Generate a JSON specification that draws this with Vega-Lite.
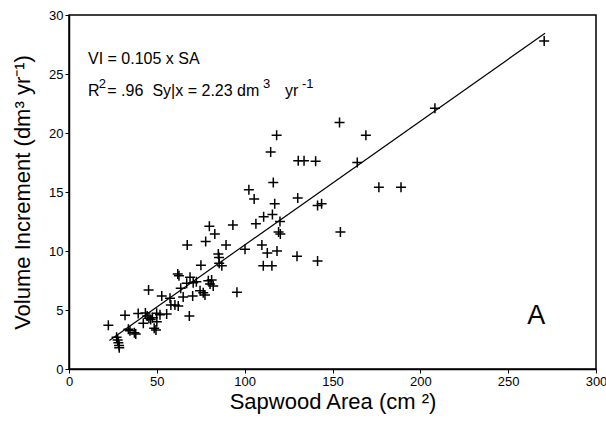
{
  "$schema": "https://vega.github.io/schema/vega-lite/v6.json",
  "width": 527,
  "height": 354,
  "autosize": {"type": "none"},
  "padding": {"left": 69, "top": 15, "right": 10, "bottom": 54},
  "background": "white",
  "config": {
    "font": "Liberation Sans",
    "view": {"stroke": "black", "strokeWidth": 1.5},
    "axis": {"grid": false, "domainColor": "black", "domainWidth": 1.5, "tickColor": "black", "tickSize": 4, "labelColor": "black", "titleColor": "black", "labelFontSize": 13, "titleFontWeight": "normal", "titleFontSize": 22, "labelFlush": false}
  },
  "datasets": {
    "pts": [
      {"sa": 270.5, "vi": 27.8}, {"sa": 208.3, "vi": 22.1}, {"sa": 154, "vi": 20.9}, {"sa": 118.2, "vi": 19.8},
      {"sa": 169, "vi": 19.8}, {"sa": 114.8, "vi": 18.4}, {"sa": 130.5, "vi": 17.65}, {"sa": 133.8, "vi": 17.65},
      {"sa": 140.4, "vi": 17.6}, {"sa": 164.1, "vi": 17.5}, {"sa": 116.3, "vi": 15.8}, {"sa": 102.4, "vi": 15.2},
      {"sa": 176.4, "vi": 15.4}, {"sa": 189, "vi": 15.4}, {"sa": 105.4, "vi": 14.4}, {"sa": 130.2, "vi": 14.5},
      {"sa": 117.1, "vi": 14.0}, {"sa": 141.5, "vi": 13.85}, {"sa": 143.8, "vi": 14.0}, {"sa": 110.8, "vi": 12.9},
      {"sa": 115.8, "vi": 13.1}, {"sa": 79.9, "vi": 12.1}, {"sa": 93.3, "vi": 12.2}, {"sa": 106.4, "vi": 12.3},
      {"sa": 120.1, "vi": 12.5}, {"sa": 83, "vi": 11.45}, {"sa": 119.3, "vi": 11.6}, {"sa": 120.3, "vi": 11.45},
      {"sa": 154.5, "vi": 11.6}, {"sa": 67.3, "vi": 10.5}, {"sa": 77.8, "vi": 10.8}, {"sa": 89.4, "vi": 10.5},
      {"sa": 100.2, "vi": 10.15}, {"sa": 109.8, "vi": 10.5}, {"sa": 112.9, "vi": 9.83}, {"sa": 118.4, "vi": 10.0},
      {"sa": 129.8, "vi": 9.55}, {"sa": 141.5, "vi": 9.15}, {"sa": 85, "vi": 9.75}, {"sa": 85.4, "vi": 9.45},
      {"sa": 85.5, "vi": 8.96}, {"sa": 87, "vi": 8.75}, {"sa": 75.1, "vi": 8.8}, {"sa": 110.6, "vi": 8.75},
      {"sa": 115.5, "vi": 8.75}, {"sa": 61.9, "vi": 8.05}, {"sa": 62.6, "vi": 7.9}, {"sa": 68.9, "vi": 7.77},
      {"sa": 67, "vi": 7.26}, {"sa": 70.7, "vi": 7.31}, {"sa": 72.5, "vi": 7.4}, {"sa": 79.3, "vi": 7.48},
      {"sa": 81.2, "vi": 7.54}, {"sa": 80.3, "vi": 7.2}, {"sa": 82.1, "vi": 7.03}, {"sa": 63.6, "vi": 6.84},
      {"sa": 74.6, "vi": 6.64}, {"sa": 76.4, "vi": 6.47}, {"sa": 77.4, "vi": 6.27}, {"sa": 95.6, "vi": 6.5},
      {"sa": 45.3, "vi": 6.7}, {"sa": 52.8, "vi": 6.19}, {"sa": 57.5, "vi": 6.0}, {"sa": 65, "vi": 6.1},
      {"sa": 70.4, "vi": 6.19}, {"sa": 58, "vi": 5.42}, {"sa": 60.3, "vi": 5.42}, {"sa": 62.2, "vi": 5.34},
      {"sa": 31.9, "vi": 4.55}, {"sa": 39.4, "vi": 4.7}, {"sa": 43.5, "vi": 4.75}, {"sa": 44.5, "vi": 4.5},
      {"sa": 45.5, "vi": 4.3}, {"sa": 46.5, "vi": 4.2}, {"sa": 47.5, "vi": 4.35}, {"sa": 49.9, "vi": 4.72},
      {"sa": 51.8, "vi": 4.6}, {"sa": 55.6, "vi": 4.66}, {"sa": 68.5, "vi": 4.49}, {"sa": 50, "vi": 4.0},
      {"sa": 42.3, "vi": 3.87}, {"sa": 48.5, "vi": 3.45}, {"sa": 49.5, "vi": 3.3}, {"sa": 33.8, "vi": 3.36},
      {"sa": 34.7, "vi": 3.25}, {"sa": 37.2, "vi": 3.08}, {"sa": 38, "vi": 2.97}, {"sa": 22.4, "vi": 3.7},
      {"sa": 27.1, "vi": 2.69}, {"sa": 27.7, "vi": 2.46}, {"sa": 28.1, "vi": 2.23}, {"sa": 28.5, "vi": 2.0},
      {"sa": 28.6, "vi": 1.8}
    ],
    "fit": [{"sa": 23, "vi": 2.42}, {"sa": 271, "vi": 28.46}],
    "txt": [
      {"sa": 10.8, "vi": 25.85, "label": "VI = 0.105 x SA"},
      {"sa": 10.8, "vi": 23.1, "label": "R"},
      {"sa": 21.8, "vi": 23.1, "label": "= .96"},
      {"sa": 47.5, "vi": 23.1, "label": "Sy|x = 2.23 dm"},
      {"sa": 123, "vi": 23.1, "label": "yr"}
    ],
    "sup": [
      {"sa": 17.0, "vi": 23.8, "label": "2"},
      {"sa": 110.4, "vi": 23.8, "label": "3"},
      {"sa": 132.6, "vi": 23.8, "label": "-1"}
    ],
    "big": [
      {"sa": 266, "vi": 4.5, "label": "A"}
    ]
  },
  "layer": [
    {
      "data": {"name": "pts"},
      "mark": {"type": "point", "shape": "M-1,0L1,0M0,-1L0,1", "filled": false, "stroke": "black", "strokeWidth": 1.5, "size": 100, "opacity": 1},
      "encoding": {
        "x": {"field": "sa", "type": "quantitative", "scale": {"domain": [0, 300], "nice": false}, "axis": {"values": [0, 50, 100, 150, 200, 250, 300], "title": "Sapwood Area (cm ²)", "labelPadding": 2, "titlePadding": 3}},
        "y": {"field": "vi", "type": "quantitative", "scale": {"domain": [0, 30], "nice": false}, "axis": {"values": [0, 5, 10, 15, 20, 25, 30], "title": "Volume Increment (dm³ yr⁻¹)", "labelPadding": 2, "titlePadding": 14}}
      }
    },
    {
      "data": {"name": "fit"},
      "mark": {"type": "line", "color": "black", "strokeWidth": 1.2},
      "encoding": {
        "x": {"field": "sa", "type": "quantitative"},
        "y": {"field": "vi", "type": "quantitative"}
      }
    },
    {
      "data": {"name": "txt"},
      "mark": {"type": "text", "align": "left", "baseline": "alphabetic", "fontSize": 16, "color": "black"},
      "encoding": {
        "x": {"field": "sa", "type": "quantitative"},
        "y": {"field": "vi", "type": "quantitative"},
        "text": {"field": "label"}
      }
    },
    {
      "data": {"name": "sup"},
      "mark": {"type": "text", "align": "left", "baseline": "alphabetic", "fontSize": 13, "color": "black"},
      "encoding": {
        "x": {"field": "sa", "type": "quantitative"},
        "y": {"field": "vi", "type": "quantitative"},
        "text": {"field": "label"}
      }
    },
    {
      "data": {"name": "big"},
      "mark": {"type": "text", "align": "center", "baseline": "middle", "fontSize": 27, "color": "black"},
      "encoding": {
        "x": {"field": "sa", "type": "quantitative"},
        "y": {"field": "vi", "type": "quantitative"},
        "text": {"field": "label"}
      }
    }
  ]
}
